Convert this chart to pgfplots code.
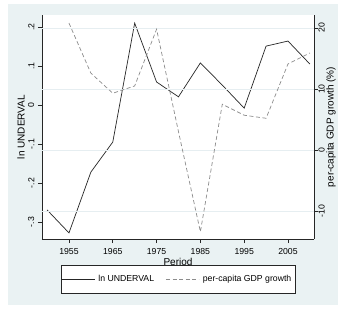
\documentclass[border=0pt]{standalone}
\usepackage{fontspec}
\setmainfont{Liberation Sans}
\usepackage{pgfplots}
\pgfplotsset{compat=1.18}
\definecolor{stbg}{RGB}{234,242,243}
\definecolor{stgrid}{RGB}{230,238,241}
\definecolor{dashcol}{RGB}{140,140,140}
\newcommand{\sfont}{\fontsize{8.7}{10}\selectfont}

\pgfplotstableread{
year val
1950 -0.269
1955 -0.328
1960 -0.172
1965 -0.095
1970 0.210
1975 0.059
1980 0.021
1985 0.108
1990 0.051
1995 -0.008
2000 0.151
2005 0.164
2010 0.105
}\underval

\pgfplotstableread{
year val
1955 20.8
1960 12.6
1965 9.3
1970 10.5
1975 19.8
1980 3.0
1985 -13.4
1990 7.5
1995 5.7
2000 5.2
2005 14.1
2010 15.9
}\gdpgrowth

\begin{document}
\begin{tikzpicture}
\fill[white] (-42pt,-70pt) rectangle (296pt,239pt);
\fill[stbg] (-34pt,-66pt) rectangle (296pt,235pt);
\useasboundingbox (-42pt,-70pt) rectangle (296pt,239pt);

\pgfplotsset{
  common/.style={
    scale only axis, width=272pt, height=224pt,
    at={(0pt,0pt)}, anchor=south west,
    xmin=1948.84, xmax=2010.94,
    tick align=outside, major tick length=4pt,
    axis line style={black!85, line width=0.6pt},
    every tick/.style={black!85, line width=0.6pt},
    tick label style={font=\sfont},
    label style={font=\sfont},
  }
}

\begin{axis}[common,
  axis x line*=bottom, axis y line*=left,
  axis background/.style={fill=white},
  ymin=-0.3436, ymax=0.2308,
  xtick={1955,1965,1975,1985,1995,2005},
  xticklabels={1955,1965,1975,1985,1995,2005},
  ytick={-0.3,-0.2,-0.1,0,0.1,0.2},
  yticklabels={-.3,-.2,-.1,0,.1,.2},
  xticklabel style={anchor=north, yshift=-1.5pt},
  yticklabel style={rotate=90, anchor=south, inner sep=3.5pt},
  xlabel={Period}, ylabel={ln UNDERVAL},
  every axis x label/.style={at={(axis description cs:0.5,-0.1027)}, anchor=center},
  every axis y label/.style={at={(axis description cs:-0.0772,0.5)}, rotate=90, anchor=center},
]
\addplot[black!85, line width=0.7pt] table[x=year, y=val] {\underval};
\end{axis}

\begin{axis}[common,
  axis x line=none, axis y line*=right,
  ymin=-14.59, ymax=22.13,
  ytick={-10,0,10,20},
  yticklabels={-10,0,10,20},
  ymajorgrids, grid style={stgrid, line width=0.6pt},
  yticklabel style={rotate=90, anchor=north, inner sep=0.3pt},
  ylabel={per-capita GDP growth (\%)},
  every axis y label/.style={at={(axis description cs:1.0625,0.5)}, rotate=90, anchor=center},
  legend columns=2,
  legend cell align=left,
  legend image code/.code={\draw[#1] (0pt,0pt) -- (33pt,0pt);},
  legend style={at={(axis description cs:0.5,0)}, anchor=north, yshift=-26pt,
    draw=black!85, line width=0.6pt, fill=white, font=\sfont,
    inner xsep=0pt, inner ysep=9.9pt,
    nodes={inner xsep=3.5pt, inner ysep=0pt},
    /tikz/every even column/.append style={column sep=8pt}},
]
\addlegendimage{black!85, line width=0.7pt}
\addlegendentry{ln UNDERVAL}
\addplot[dashcol, line width=0.7pt, dash pattern=on 4pt off 2.6pt] table[x=year, y=val] {\gdpgrowth};
\addlegendentry{per-capita GDP growth}
\end{axis}
\end{tikzpicture}
\end{document}
